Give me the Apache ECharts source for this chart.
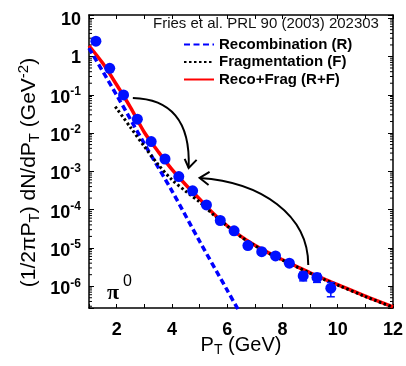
<!DOCTYPE html>
<html><head><meta charset="utf-8">
<script src="https://cdn.jsdelivr.net/npm/echarts@6/dist/echarts.min.js"></script>
<style>html,body{margin:0;padding:0;background:#fff}#c{width:406px;height:366px}</style>
</head><body><div id="c"></div>
<script>
// ---- data ----
const dataX = [1.25,1.75,2.25,2.75,3.25,3.75,4.25,4.75,5.25,5.75,6.25,6.75,7.25,7.75,8.25,8.75,9.25,9.75];
const dataY = [2.5,0.49,0.099,0.023,0.0060,0.0021,7.3e-4,3.1e-4,1.33e-4,5.2e-5,2.8e-5,1.15e-5,8.0e-6,6.2e-6,4.0e-6,1.86e-6,1.7e-6,8.9e-7];
const dataErrLow = [2.3,0.45,0.091,0.021,0.0055,0.0019,6.7e-4,2.8e-4,1.2e-4,4.7e-5,2.5e-5,1.0e-5,7.0e-6,5.4e-6,3.4e-6,1.38e-6,1.26e-6,5.3e-7];
const dataErrHigh = [2.7,0.53,0.107,0.025,0.0065,0.0023,7.9e-4,3.4e-4,1.46e-4,5.7e-5,3.1e-5,1.3e-5,9.0e-6,7.0e-6,4.6e-6,2.34e-6,2.14e-6,1.25e-6];

const recoX = [1,2,3,4,5,6,6.5];
const recoY = [1.65,0.098,5.3e-3,3.1e-4,1.5e-5,7.9e-7,1.8e-7];

const fragX = [1.95,2.5,3,3.5,4,4.5,5,5.5,6,6.5,7,7.5,8,8.5,9,9.5,10,11,12];
const fragY = [0.049,0.0141,0.00447,0.00151,6.03e-4,3.02e-4,1.58e-4,7.41e-5,3.72e-5,1.95e-5,1.15e-5,7.24e-6,4.79e-6,3.24e-6,2.19e-6,1.51e-6,1.07e-6,5.37e-7,2.82e-7];

const sumX = [1,1.5,2,2.5,3,3.5,4,4.5,5,5.5,6,6.5,7,7.5,8,8.5,9,9.5,10,11,12];
const sumY = [1.905,0.661,0.182,0.0468,0.0105,0.00331,0.00112,4.47e-4,1.91e-4,7.94e-5,3.80e-5,2.00e-5,1.17e-5,7.41e-6,4.90e-6,3.31e-6,2.24e-6,1.55e-6,1.10e-6,5.50e-7,2.88e-7];

const seriesNames = ['Recombination (R)','Fragmentation (F)','Reco+Frag (R+F)'];
const xTickLabels = [2,4,6,8,10,12];
const yTickValues = [10,1,0.1,0.01,0.001,1e-4,1e-5,1e-6];
const yTickTexts = ['{c|10}','{c|1}','{b|10}{s|-1}','{b|10}{s|-2}','{b|10}{s|-3}','{b|10}{s|-4}','{b|10}{s|-5}','{b|10}{s|-6}'];
const refText = 'Fries et al. PRL 90 (2003) 202303';

// annotation arrows (data coordinates)
const arrow1 = [[2.587,0.0824],[3.921,0.0777],[4.678,0.0220],[4.606,0.00123]];
const arrow1Head = [[4.462,0.00211],[4.606,0.00123],[4.895,0.00199]];
const arrow2 = [[8.934,3.6e-6],[8.934,7.27e-5],[7.239,5.28e-4],[5.003,6.73e-4]];
const arrow2Head = [[5.363,9.64e-4],[5.003,6.73e-4],[5.327,4.42e-4]];
const piLabelAt = [1.65,1.65e-6];

const X_MIN = 1, X_MAX = 12, Y_MIN = 2.7e-7, Y_MAX = 12.1;
const FONT = "'Liberation Sans', Arial, sans-serif";

// minor log ticks
const minorTickVals = [];
for (let k = -7; k <= 1; k++) for (let m = 2; m <= 9; m++) {
  const v = m * Math.pow(10, k);
  if (v > Y_MIN && v < Y_MAX) minorTickVals.push([X_MIN, v]);
}

const chart = echarts.init(document.getElementById('c'));

function yLabel(v) {
  for (let i = 0; i < yTickValues.length; i++) {
    if (Math.abs(Math.log10(v) - Math.log10(yTickValues[i])) < 1e-6) return yTickTexts[i];
  }
  return '';
}

const axisLineStyle = {show: true, lineStyle: {color: '#000', width: 1.5}};

chart.setOption({
  animation: false,
  backgroundColor: '#fff',
  title: {
    text: refText, left: 153, top: 16, padding: 0,
    textStyle: {fontSize: 15, fontWeight: 'normal', color: '#111', fontFamily: FONT}
  },
  legend: {
    data: seriesNames, left: 183, top: 37, orient: 'vertical', padding: 0,
    itemWidth: 30, itemHeight: 12, itemGap: 2.5, selectedMode: false,
    itemStyle: {opacity: 0},
    textStyle: {fontSize: 15, fontWeight: 'bold', color: '#000', fontFamily: FONT, lineHeight: 15}
  },
  grid: {left: 89, right: 12, top: 15, bottom: 58},
  xAxis: [{
    type: 'value', min: X_MIN, max: X_MAX, interval: 1,
    axisLine: axisLineStyle,
    axisTick: {inside: true, length: 4, lineStyle: {color: '#000', width: 1}},
    splitLine: {show: false},
    axisLabel: {
      formatter: v => xTickLabels.includes(v) ? String(v) : '',
      fontSize: 18, fontWeight: 'bold', color: '#000', fontFamily: FONT, margin: 13
    },
    name: '{b|P}{sub|T}{b| (GeV)}', nameLocation: 'middle', nameGap: 26, nameMoveOverlap: false,
    nameTextStyle: {
      color: '#000', fontFamily: FONT,
      rich: {
        b: {fontSize: 20, lineHeight: 22, color: '#000', fontFamily: FONT},
        sub: {fontSize: 14, lineHeight: 14, padding: [10,0,0,0], color: '#000', fontFamily: FONT}
      }
    }
  }, {
    type: 'value', position: 'top', min: X_MIN, max: X_MAX, interval: 1,
    axisLine: axisLineStyle,
    axisTick: {inside: true, length: 4, lineStyle: {color: '#000', width: 1}},
    splitLine: {show: false}, axisLabel: {show: false}
  }],
  yAxis: [{
    type: 'log', logBase: 10, min: Y_MIN, max: Y_MAX,
    axisLine: axisLineStyle,
    axisTick: {inside: true, length: 5, lineStyle: {color: '#000', width: 1}},
    splitLine: {show: false},
    axisLabel: {
      formatter: yLabel, margin: 8, color: '#000',
      rich: {
        c: {fontSize: 18, fontWeight: 'bold', lineHeight: 18, padding: [3,0,0,0], color: '#000', fontFamily: FONT},
        b: {fontSize: 18, fontWeight: 'bold', lineHeight: 18, padding: [6,0,0,0], color: '#000', fontFamily: FONT},
        s: {fontSize: 12, fontWeight: 'bold', lineHeight: 12, padding: [3,0,9,0], color: '#000', fontFamily: FONT}
      }
    },
    name: '{b|(1/2πP}{sub|T}{b|) dN/dP}{sub|T}{b| (GeV}{sup|-2}{b|)}',
    nameLocation: 'middle', nameRotate: 90, nameGap: 48, nameMoveOverlap: false,
    nameTextStyle: {
      color: '#000', fontFamily: FONT, padding: [0, 22, 0, 0],
      rich: {
        b: {fontSize: 21, lineHeight: 24, color: '#000', fontFamily: FONT},
        sub: {fontSize: 15, lineHeight: 15, padding: [11,0,0,0], color: '#000', fontFamily: FONT},
        sup: {fontSize: 15, lineHeight: 15, padding: [0,0,11,0], color: '#000', fontFamily: FONT}
      }
    }
  }, {
    type: 'log', logBase: 10, min: Y_MIN, max: Y_MAX, position: 'right',
    axisLine: axisLineStyle,
    axisTick: {inside: true, length: 5, lineStyle: {color: '#000', width: 1}},
    splitLine: {show: false}, axisLabel: {show: false}
  }],
  series: [{
    type: 'custom', silent: true, z: 1,
    data: minorTickVals,
    renderItem: (params, api) => {
      const y = api.coord([X_MIN, api.value(1)])[1];
      const xl = api.coord([X_MIN, api.value(1)])[0];
      const xr = api.coord([X_MAX, api.value(1)])[0];
      return {type: 'group', children: [
        {type: 'line', shape: {x1: xl, y1: y, x2: xl + 3, y2: y}, style: {stroke: '#000', lineWidth: 1}},
        {type: 'line', shape: {x1: xr - 3, y1: y, x2: xr, y2: y}, style: {stroke: '#000', lineWidth: 1}}
      ]};
    }
  }, {
    name: seriesNames[2], type: 'line', symbol: 'none', smooth: 0.3, z: 2,
    data: sumX.map((x, i) => [x, sumY[i]]),
    lineStyle: {color: '#ff0000', width: 3.5}, itemStyle: {color: '#ff0000'}
  }, {
    name: seriesNames[0], type: 'line', symbol: 'none', smooth: 0.3, z: 3,
    data: recoX.map((x, i) => [x, recoY[i]]),
    lineStyle: {color: '#0000ff', width: 3.5, type: [6, 3.5]}, itemStyle: {color: '#0000ff'}
  }, {
    name: seriesNames[1], type: 'line', symbol: 'none', smooth: 0.3, z: 4,
    data: fragX.map((x, i) => [x, fragY[i]]),
    lineStyle: {color: '#000', width: 3, type: [2.5, 2.5]}, itemStyle: {color: '#000'}
  }, {
    type: 'custom', z: 5, silent: true,
    data: dataX.map((x, i) => [x, dataErrLow[i], dataErrHigh[i]]),
    renderItem: (params, api) => {
      const lo = api.coord([api.value(0), api.value(1)]);
      const hi = api.coord([api.value(0), api.value(2)]);
      const st = {stroke: '#0010ff', lineWidth: 1.5};
      return {type: 'group', children: [
        {type: 'line', shape: {x1: lo[0], y1: lo[1], x2: hi[0], y2: hi[1]}, style: st},
        {type: 'line', shape: {x1: lo[0] - 4, y1: lo[1], x2: lo[0] + 4, y2: lo[1]}, style: st},
        {type: 'line', shape: {x1: hi[0] - 4, y1: hi[1], x2: hi[0] + 4, y2: hi[1]}, style: st}
      ]};
    }
  }, {
    type: 'scatter', z: 6, symbol: 'circle', symbolSize: 11,
    data: dataX.map((x, i) => [x, dataY[i]]),
    itemStyle: {color: '#0010ff', opacity: 1}
  }]
});

const px = p => chart.convertToPixel({xAxisIndex: 0, yAxisIndex: 0}, p);
function bez(pts) {
  const a = pts.map(px);
  return {type: 'bezierCurve', silent: true, z: 10,
    shape: {x1: a[0][0], y1: a[0][1], cpx1: a[1][0], cpy1: a[1][1], cpx2: a[2][0], cpy2: a[2][1], x2: a[3][0], y2: a[3][1]},
    style: {stroke: '#000', lineWidth: 2, fill: null}};
}
function head(pts) {
  return {type: 'polyline', silent: true, z: 10, shape: {points: pts.map(px)},
    style: {stroke: '#000', lineWidth: 2, fill: null}};
}
const piPos = px(piLabelAt);
chart.setOption({
  graphic: [
    bez(arrow1), head(arrow1Head), bez(arrow2), head(arrow2Head),
    {type: 'text', silent: true, z: 10, x: piPos[0], y: piPos[1],
      style: {text: '{p|π}{s|0}', align: 'left', verticalAlign: 'top',
        rich: {
          p: {fontSize: 22, fontWeight: 'bold', fontFamily: "'Liberation Serif', serif", fill: '#000', lineHeight: 22, padding: [8,0,0,0]},
          s: {fontSize: 16, fontFamily: FONT, fill: '#000', lineHeight: 16, padding: [0,0,14,4]}
        }}}
  ]
});
</script>
</body></html>
